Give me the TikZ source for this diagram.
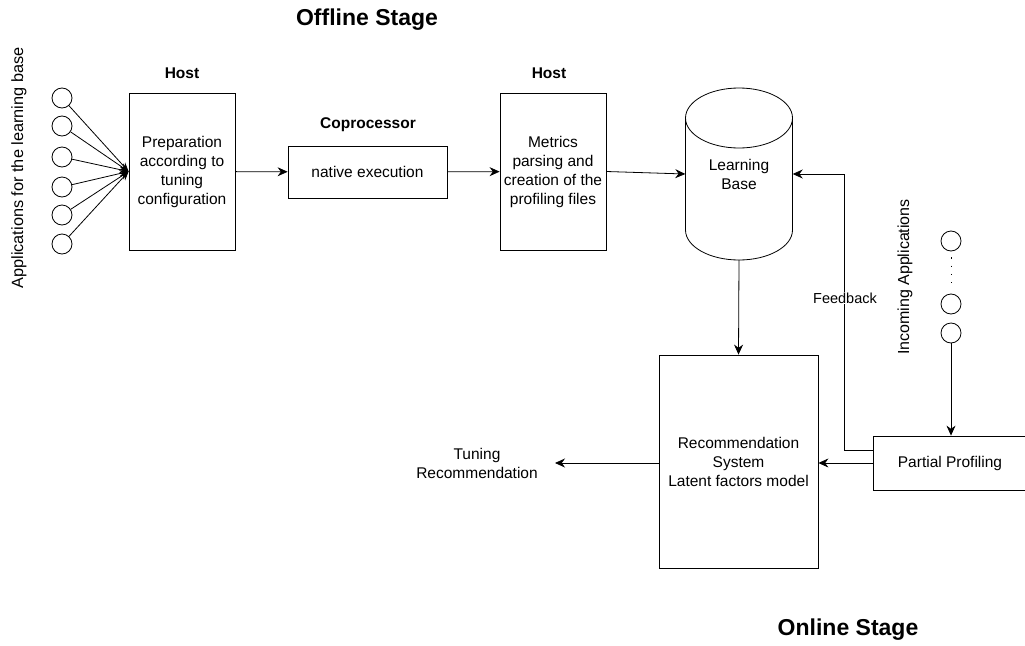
\documentclass[tikz,border=0pt]{standalone}
\usepackage{fontspec}
\setmainfont{Liberation Sans}
\usetikzlibrary{arrows.meta,shapes.geometric}
\begin{document}
\begin{tikzpicture}[x=1pt,y=-1pt,
  every node/.style={font=\fontsize{15.5}{19}\selectfont},
  box/.style={draw,thick,align=center,inner sep=0pt},
  app/.style={draw,circle,minimum size=20pt,inner sep=0pt,thick},
  arr/.style={thick,-{Stealth[length=10pt,width=9pt]}},
  ttl/.style={font=\fontsize{23}{26}\bfseries\selectfont},
  hdr/.style={font=\fontsize{15.5}{19}\bfseries\selectfont}]
\useasboundingbox (0,0) rectangle (1025,645);
\clip (0,0) rectangle (1025,645);
\node[ttl] (t1) at (367,20) {Offline Stage};
\node[ttl] (t2) at (848,630) {Online Stage};
\node[hdr] (h1) at (182,73) {Host};
\node[hdr] (h2) at (549,73) {Host};
\node[hdr] (h3) at (368,125) {Coprocessor};
\node[rotate=90,font=\fontsize{16.3}{19}\selectfont] (lbl1) at (19,168) {Applications for the learning base};
\node[rotate=90,font=\fontsize{16}{19}\selectfont] (lbl2) at (905,277) {Incoming Applications};
% boxes
\node[box,minimum width=106pt,minimum height=157pt] (prep) at (182,171.5) {Preparation\\according to\\tuning\\configuration};
\node[box,minimum width=159pt,minimum height=52pt] (nat) at (367.5,172) {native execution};
\node[box,minimum width=106pt,minimum height=157pt] (met) at (553,171.5) {Metrics\\parsing and\\creation of the\\profiling files};
\node[box,minimum width=159pt,minimum height=213pt] (rec) at (738.5,461.5) {Recommendation\\System\\Latent factors model};
\node[box,minimum width=160pt,minimum height=54pt,anchor=west] (pp) at (873,463) {};
\node (pptxt) at (950,463) {Partial Profiling};
% cylinder (learning base)
\node[minimum width=107pt,minimum height=172pt,inner sep=0pt] (lb) at (739,174) {};
\draw[thick] (739,118) ellipse[x radius=53.5,y radius=30];
\draw[thick] (685.5,118) -- (685.5,230) arc[start angle=180,end angle=0,x radius=53.5,y radius=30] -- (792.5,118);
\node[align=center] (lbt) at (739,174) {Learning\\Base};
% left apps
\foreach \i/\y in {1/98,2/126,3/157,4/187,5/215,6/244}{
  \node[app] (a\i) at (62,\y) {};
  \draw[thick,-{Stealth[length=9pt,width=7pt]}] (a\i) -- (prep.west);
}
% incoming apps
\node[app] (b1) at (951,241) {};
\node[app] (b2) at (951,304) {};
\node[app] (b3) at (951,333) {};
\draw[thick,dash pattern=on 1.2pt off 7pt,shorten >=6pt,shorten <=6pt] (b1) -- (b2);
% arrows
\draw[arr] (prep) -- (nat);
\draw[arr] (nat) -- (met);
\draw[arr] (met.east) -- (lb.west);
\draw[arr] (lb.south) -- (rec.north);
\draw[arr] (b3) -- (b3 |- pp.north);
\draw[arr] (pp.west) -- (rec.east |- pp.west);
\coordinate (fb1) at (844,450);
\coordinate (fb2) at (844,174);
\draw[arr] (pp.west |- fb1) -- (fb1) -- (fb2) -- (lb.east);
\node[fill=white,inner sep=1pt,font=\fontsize{14.5}{16}\selectfont] (fb) at (845,298) {Feedback};
\coordinate (tr) at (555,463);
\draw[arr] (rec.west |- tr) -- (tr);
\node[align=center] (trt) at (477,463) {Tuning\\Recommendation};
\end{tikzpicture}
\end{document}
